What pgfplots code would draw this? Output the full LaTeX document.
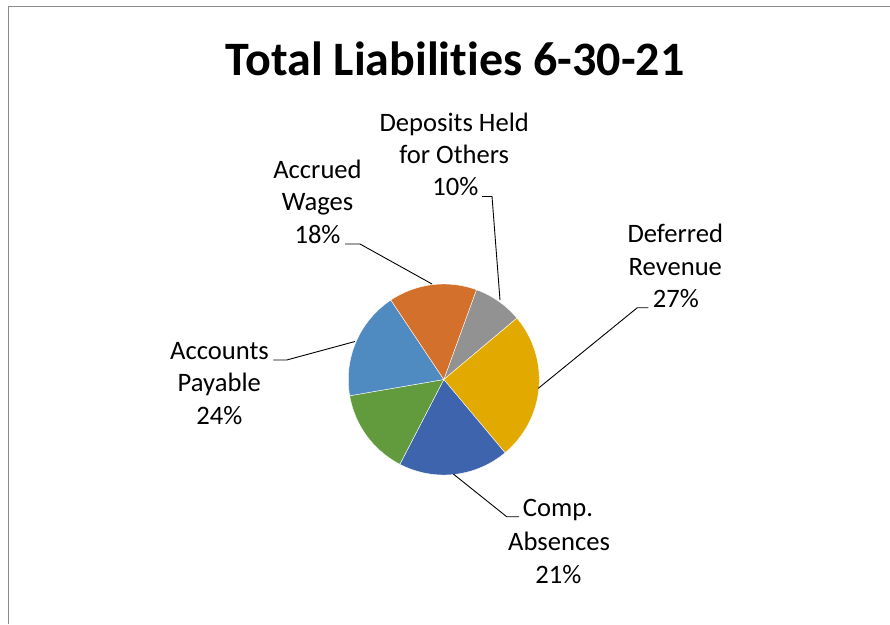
\documentclass[border=0pt]{standalone}
\usepackage{pgfplots}
\pgfplotsset{compat=1.18}
\usepackage{fontspec}
\setmainfont{Carlito}[Ligatures=NoCommon]
\definecolor{cOrange}{HTML}{D3702B}
\definecolor{cGray}{HTML}{929292}
\definecolor{cYellow}{HTML}{E2AA00}
\definecolor{cLBlue}{HTML}{4F8AC0}
\definecolor{cGreen}{HTML}{629A3E}
\definecolor{cDBlue}{HTML}{3D64AC}
\definecolor{cFrame}{HTML}{8C8C8C}
\newcommand{\lbl}{\fontsize{26.6}{32.5}\selectfont}
\begin{document}
\begin{tikzpicture}
\begin{axis}[
  width=890pt, height=624pt, scale only axis,
  xmin=0, xmax=890, ymin=0, ymax=624, y dir=reverse,
  hide axis, clip=false]
% frame
\addplot[cFrame, line width=1pt] coordinates {(8.3,624) (8.3,6.7) (890,6.7)};
% pie slices (start/end angles in degrees, counter-clockwise)
\addplot[fill=cGray, draw=white, line width=0.4pt, domain=40.0:70.0, samples=30, variable=\t]
  ({443.8+95.5*cos(\t)},{379.5-95.5*sin(\t)}) -- (axis cs:443.8,379.5) -- cycle;
\addplot[fill=cYellow, draw=white, line width=0.4pt, domain=-50.1:40.0, samples=60, variable=\t]
  ({443.8+95.5*cos(\t)},{379.5-95.5*sin(\t)}) -- (axis cs:443.8,379.5) -- cycle;
\addplot[fill=cDBlue, draw=white, line width=0.4pt, domain=-117.4:-50.1, samples=50, variable=\t]
  ({443.8+95.5*cos(\t)},{379.5-95.5*sin(\t)}) -- (axis cs:443.8,379.5) -- cycle;
\addplot[fill=cGreen, draw=white, line width=0.4pt, domain=-170.2:-117.4, samples=40, variable=\t]
  ({443.8+95.5*cos(\t)},{379.5-95.5*sin(\t)}) -- (axis cs:443.8,379.5) -- cycle;
\addplot[fill=cLBlue, draw=white, line width=0.4pt, domain=123.7:189.8, samples=50, variable=\t]
  ({443.8+95.5*cos(\t)},{379.5-95.5*sin(\t)}) -- (axis cs:443.8,379.5) -- cycle;
\addplot[fill=cOrange, draw=white, line width=0.4pt, domain=70.0:123.7, samples=40, variable=\t]
  ({443.8+95.5*cos(\t)},{379.5-95.5*sin(\t)}) -- (axis cs:443.8,379.5) -- cycle;
% leader lines
\addplot[black, line width=0.9pt] coordinates {(482,196.5) (492,196.5) (500,300)};
\addplot[black, line width=0.9pt] coordinates {(345,244) (360,244) (432,284)};
\addplot[black, line width=0.9pt] coordinates {(648.3,307.7) (637.3,307.7) (538.3,388.3)};
\addplot[black, line width=0.9pt] coordinates {(519,516.7) (506.7,516.7) (453.3,474)};
\addplot[black, line width=0.9pt] coordinates {(273.3,360) (286.7,360) (355,341.5)};
% title
\node[anchor=base, inner sep=0pt, font=\fontsize{48}{58}\selectfont\bfseries] at (axis cs:455,75) {Total Liabilities 6-30-21};
% labels
\node[anchor=base, inner sep=0pt, font=\lbl] at (axis cs:454.2,131.7) {Deposits Held};
\node[anchor=base, inner sep=0pt, font=\lbl] at (axis cs:454.2,163.5) {for Others};
\node[anchor=base, inner sep=0pt, font=\lbl] at (axis cs:455.3,195) {10\%};
\node[anchor=base, inner sep=0pt, font=\lbl] at (axis cs:317.5,178.3) {Accrued};
\node[anchor=base, inner sep=0pt, font=\lbl] at (axis cs:317.5,210.8) {Wages};
\node[anchor=base, inner sep=0pt, font=\lbl] at (axis cs:317.5,243.3) {18\%};
\node[anchor=base, inner sep=0pt, font=\lbl] at (axis cs:675.3,242.3) {Deferred};
\node[anchor=base, inner sep=0pt, font=\lbl] at (axis cs:675.3,275) {Revenue};
\node[anchor=base, inner sep=0pt, font=\lbl] at (axis cs:675.8,307.7) {27\%};
\node[anchor=base, inner sep=0pt, font=\lbl] at (axis cs:558,516.7) {Comp.};
\node[anchor=base, inner sep=0pt, font=\lbl] at (axis cs:559,550) {Absences};
\node[anchor=base, inner sep=0pt, font=\lbl] at (axis cs:558.3,583.3) {21\%};
\node[anchor=base, inner sep=0pt, font=\lbl] at (axis cs:219.5,359.3) {Accounts};
\node[anchor=base, inner sep=0pt, font=\lbl] at (axis cs:219.3,391.8) {Payable};
\node[anchor=base, inner sep=0pt, font=\lbl] at (axis cs:219.3,424.3) {24\%};
\end{axis}
\pgfresetboundingbox
\useasboundingbox (current axis.south west) rectangle (current axis.north east);
\end{tikzpicture}
\end{document}
